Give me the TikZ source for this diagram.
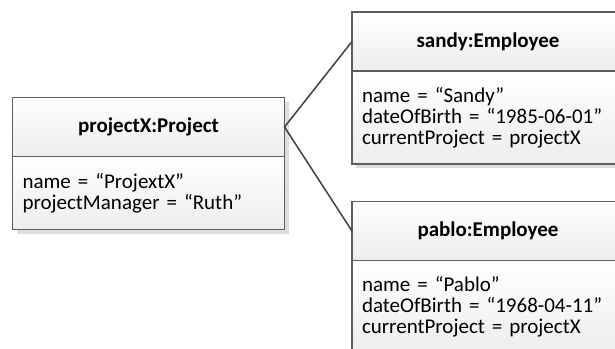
\documentclass[tikz,border=0pt]{standalone}
\usepackage{fontspec}
\setmainfont{Carlito}
\usetikzlibrary{positioning,shadows}

\definecolor{boxline}{HTML}{5E5E5E}
\definecolor{linkline}{HTML}{404040}
\definecolor{boxshade}{HTML}{EDEDED}

\begin{document}
\begin{tikzpicture}[x=1pt,y=-1pt,
  objhead/.style={rectangle,draw=boxline,line width=1.1pt,inner sep=0pt,outer sep=0pt,
    minimum width=272pt,minimum height=59pt,top color=white,bottom color=boxshade,
    font=\fontsize{21}{21}\selectfont\bfseries,
    drop shadow={shadow xshift=4pt,shadow yshift=-4pt,fill=black!13,opacity=1}},
  objbody/.style={rectangle,draw=boxline,line width=1.1pt,outer sep=0pt,inner ysep=0pt,
    inner xsep=10pt,text width=252pt,align=left,top color=white,bottom color=boxshade,
    font=\fontsize{21}{21}\selectfont,
    drop shadow={shadow xshift=4pt,shadow yshift=-4pt,fill=black!13,opacity=1}},
  link/.style={draw=linkline,line width=1.5pt}]

  \useasboundingbox (0,0) rectangle (615,348);
  \clip (0,0) rectangle (615,348);

  % project object
  \node[objhead] (projhead) at (148.5,127) {projectX:Project};
  \node[objbody,minimum height=73pt] (projbody) [below=0pt of projhead]
    {name = “ProjextX”\\projectManager = “Ruth”};

  % employee objects
  \node[objhead] (sandyhead) at (488,41.5) {sandy:Employee};
  \node[objbody,minimum height=93pt] (sandybody) [below=0pt of sandyhead]
    {name = “Sandy”\\dateOfBirth = “1985-06-01”\\currentProject = projectX};

  \node[objhead] (pablohead) at (488,231) {pablo:Employee};
  \node[objbody,minimum height=93pt] (pablobody) [below=0pt of pablohead]
    {name = “Pablo”\\dateOfBirth = “1968-04-11”\\currentProject = projectX};

  % links
  \draw[link] (sandyhead.west) -- (projhead.east) -- (pablohead.west);
\end{tikzpicture}
\end{document}
